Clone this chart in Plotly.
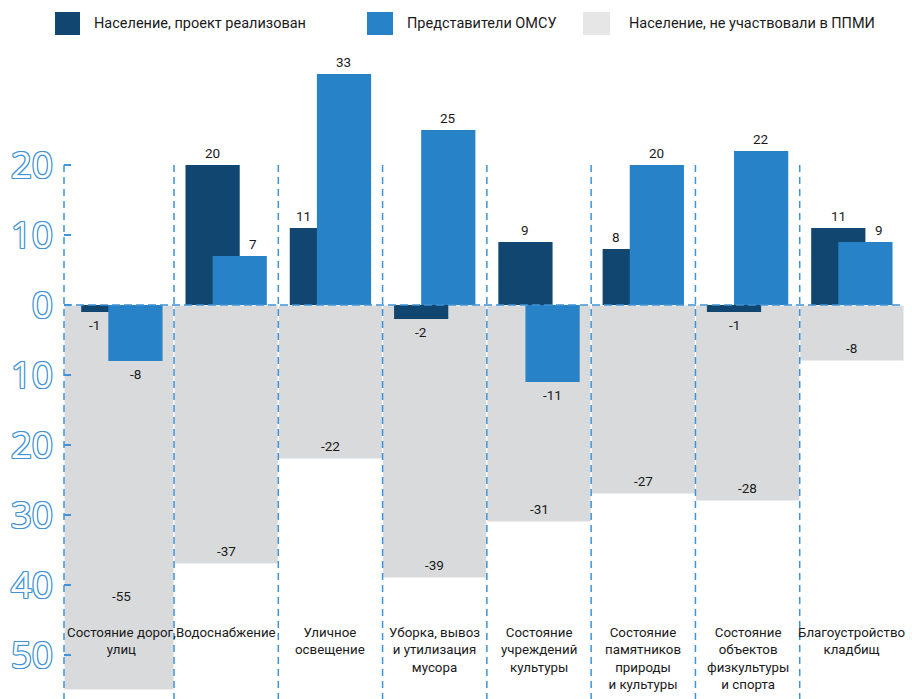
import plotly.graph_objects as go

# ---------------- data ----------------
categories = ["Дороги", "Водоснабжение", "Освещение", "Мусор",
              "Культура", "Памятники", "Спорт", "Кладбища"]
category_labels = ["Состояние дорог,<br>улиц", "Водоснабжение", "Уличное<br>освещение",
                   "Уборка, вывоз<br>и утилизация<br>мусора",
                   "Состояние<br>учреждений<br>культуры",
                   "Состояние<br>памятников<br>природы<br>и культуры",
                   "Состояние<br>объектов<br>физкультуры<br>и спорта",
                   "Благоустройство<br>кладбищ"]
pop_done = [-1, 20, 11, -2, 9, 8, -1, 11]          # Население, проект реализован
omsu = [-8, 7, 33, 25, -11, 20, 22, 9]             # Представители ОМСУ
pop_not = [-55, -37, -22, -39, -31, -27, -28, -8]  # Население, не участвовали в ППМИ
y_ticks = [20, 10, 0, -10, -20, -30, -40, -50]
y_tick_labels = ["20", "10", "0", "10", "20", "30", "40", "50"]
series_names = ["Население, проект реализован", "Представители ОМСУ",
                "Население, не участвовали в ППМИ"]

# ---------------- style / layout ----------------
W, H = 912, 699
ML, MR, MT, MB = 64, 8, 44, 0
X_RANGE = [-0.555, 7.5]
Y_RANGE = [-56.29, 37.29]
PX_PER_CAT = (W - ML - MR) / (X_RANGE[1] - X_RANGE[0])

C_DARK = "#10466f"
C_BLUE = "#2882c7"
C_GRAY = "#d9dadc"
C_GRAY_LEG = "#e6e6e6"
C_LINE = "#3f93d6"
TXT = "#1a1a1a"
FONT = "Roboto, sans-serif"

BAR_W = 0.52
DARK_OFF = -0.39
BLUE_OFF = -0.13
SEP_TOP = max(y_ticks)
GRAY_LABEL_FLOOR = -43.5
CAT_LABEL_Y = -45.5

fig = go.Figure()

gray_offsets = [X_RANGE[0]] + [-0.5] * (len(categories) - 1)
gray_widths = [0.5 - X_RANGE[0]] + [1.0] * (len(categories) - 1)
fig.add_trace(go.Bar(x=categories, y=pop_not, name=series_names[2],
                     offset=gray_offsets, width=gray_widths,
                     marker=dict(color=C_GRAY, line=dict(color="white", width=1)),
                     hoverinfo="y+name"))
fig.add_trace(go.Bar(x=categories, y=pop_done, name=series_names[0],
                     offset=DARK_OFF, width=BAR_W,
                     marker=dict(color=C_DARK, line=dict(width=0))))
fig.add_trace(go.Bar(x=categories, y=omsu, name=series_names[1],
                     offset=BLUE_OFF, width=BAR_W,
                     marker=dict(color=C_BLUE, line=dict(width=0))))

annotations = []
lab_font = dict(family=FONT, size=13.5, color=TXT)

dark_center = (DARK_OFF + BAR_W / 2) * PX_PER_CAT
blue_center = (BLUE_OFF + BAR_W / 2) * PX_PER_CAT
dark_visible = (DARK_OFF + (BLUE_OFF - DARK_OFF) / 2) * PX_PER_CAT
blue_visible = ((DARK_OFF + BAR_W) + (BLUE_OFF + BAR_W)) / 2 * PX_PER_CAT
for c, d, b, g in zip(categories, pop_done, omsu, pop_not):
    same_sign = d * b > 0
    xs_d = dark_visible if (same_sign and abs(b) >= abs(d)) else dark_center
    xs_b = blue_visible if (same_sign and abs(d) > abs(b)) else blue_center
    annotations.append(dict(x=c, y=d, xref="x", yref="y", text=str(d), showarrow=False,
                            xshift=xs_d, yshift=2 if d > 0 else -3,
                            yanchor="bottom" if d > 0 else "top", font=lab_font))
    annotations.append(dict(x=c, y=b, xref="x", yref="y", text=str(b), showarrow=False,
                            xshift=xs_b, yshift=2 if b > 0 else -3,
                            yanchor="bottom" if b > 0 else "top", font=lab_font))
    annotations.append(dict(x=c, y=max(g, GRAY_LABEL_FLOOR), xref="x", yref="y",
                            text=str(g), showarrow=False, yshift=3, yanchor="bottom",
                            font=lab_font))

for c, t in zip(categories, category_labels):
    annotations.append(dict(x=c, y=CAT_LABEL_Y, xref="x", yref="y", text=t,
                            showarrow=False, yanchor="top", align="center",
                            font=dict(family=FONT, size=13.3, color=TXT)))

shapes = []
dash_style = dict(color=C_LINE, width=1.5, dash="7px,5px")
for i in range(1, len(categories)):
    shapes.append(dict(type="line", xref="x", yref="y", x0=i - 0.5, x1=i - 0.5,
                       y0=SEP_TOP, y1=Y_RANGE[0], line=dash_style, layer="above"))
shapes.append(dict(type="line", xref="paper", yref="y", x0=0, x1=0,
                   y0=SEP_TOP, y1=Y_RANGE[0], line=dash_style, layer="above"))
shapes.append(dict(type="line", xref="paper", yref="y", x0=0, x1=1, y0=0, y1=0,
                   line=dict(color=C_LINE, width=1.5, dash="8px,4px"), layer="above"))

# custom legend (pixel layout converted to paper coords)
PW = W - ML - MR
PH = H - MT - MB


def px(xp):
    return (xp - ML) / PW


def py(yp):
    return (H - MB - yp) / PH


legend_items = [(55, 80, 92, C_DARK, series_names[0]),
                (367, 393, 405, C_BLUE, series_names[1]),
                (583, 610, 627, C_GRAY_LEG, series_names[2])]
for x0, x1, xt, col, name in legend_items:
    shapes.append(dict(type="rect", xref="paper", yref="paper", x0=px(x0), x1=px(x1),
                       y0=py(35), y1=py(12), fillcolor=col, line=dict(width=0)))
    annotations.append(dict(x=px(xt), y=py(24), xref="paper", yref="paper", text=name,
                            showarrow=False, xanchor="left", yanchor="middle",
                            font=dict(family=FONT, size=14.5, color=TXT)))

outline = ", ".join(f"{dx}px {dy}px 0 {C_LINE}" for dx, dy in
                    [(1, 0), (-1, 0), (0, 1), (0, -1), (1, 1), (-1, -1), (1, -1), (-1, 1)])

fig.update_layout(
    width=W, height=H, margin=dict(l=ML, r=MR, t=MT, b=MB),
    paper_bgcolor="white", plot_bgcolor="white",
    barmode="overlay", showlegend=False,
    xaxis=dict(range=X_RANGE, showticklabels=False, showgrid=False, zeroline=False,
               showline=False, ticks=""),
    yaxis=dict(range=Y_RANGE, tickvals=y_ticks, ticktext=y_tick_labels,
               showgrid=False, zeroline=False, showline=False,
               ticks="inside", ticklen=7, tickwidth=1.5, tickcolor=C_LINE,
               ticklabelstandoff=10,
               tickfont=dict(family="Open Sans", size=37, color="white", shadow=outline)),
    annotations=annotations, shapes=shapes,
)

fig.write_html("out.html", config={"displayModeBar": False},
               post_script="document.body.style.margin='0';")
